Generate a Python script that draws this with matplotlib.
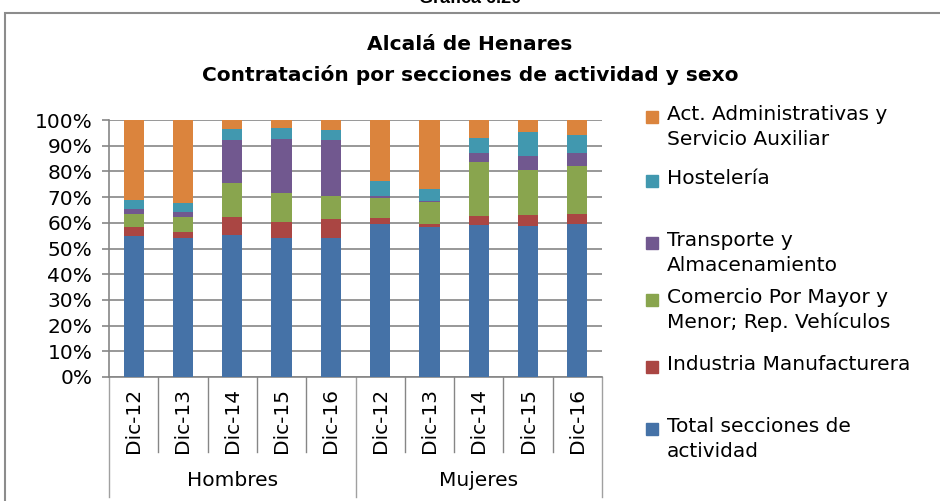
import matplotlib.pyplot as plt
from matplotlib.patches import Rectangle
import numpy as np

W, H = 940, 501

categories = ['Dic-12', 'Dic-13', 'Dic-14', 'Dic-15', 'Dic-16',
              'Dic-12', 'Dic-13', 'Dic-14', 'Dic-15', 'Dic-16']
groups = ['Hombres', 'Mujeres']

# shares (%) per section, bottom to top
total_secciones = [54.8, 53.9, 55.2, 53.9, 53.9, 59.5, 58.2, 59.0, 58.6, 59.5]
industria = [3.4, 2.6, 6.9, 6.5, 7.4, 2.2, 1.3, 3.6, 4.4, 3.9]
comercio = [5.2, 5.6, 13.4, 11.2, 9.3, 8.0, 8.7, 20.9, 17.5, 18.8]
transporte = [2.1, 2.2, 16.7, 21.0, 21.6, 0.6, 0.4, 3.5, 5.6, 4.8]
hosteleria = [3.5, 3.4, 4.3, 4.4, 3.9, 5.9, 4.5, 6.1, 9.1, 7.3]
administrativas = [31.0, 32.3, 3.5, 3.0, 3.9, 23.8, 26.9, 6.9, 4.8, 5.7]

series = [
    ('Total secciones de\nactividad', total_secciones, '#4572A7'),
    ('Industria Manufacturera', industria, '#AA4643'),
    ('Comercio Por Mayor y\nMenor; Rep. Vehículos', comercio, '#89A54E'),
    ('Transporte y\nAlmacenamiento', transporte, '#71588F'),
    ('Hostelería', hosteleria, '#4198AF'),
    ('Act. Administrativas y\nServicio Auxiliar', administrativas, '#DB843D'),
]

FONT = 'DejaVu Sans'
GRID = '#868686'
FS = 14.5


def fx(x):
    return x / W


def fy(y):
    return 1 - y / H


fig = plt.figure(figsize=(W / 100, H / 100), dpi=100)
fig.patch.set_facecolor('white')

# outer frame of the chart object
fig.add_artist(Rectangle((fx(5), fy(520)), fx(960) - fx(5), fy(13) - fy(520),
                         transform=fig.transFigure, fill=False,
                         edgecolor='#8c8c8c', linewidth=1.5))

# document caption, mostly cut off at the top (as in the source page)
fig.text(0.5, fy(7), 'Gráfica 6.20', ha='center', va='bottom',
         fontsize=13, fontweight='bold', family='Liberation Sans')

fig.text(0.5, fy(45), 'Alcalá de Henares', ha='center', va='center',
         fontsize=14.5, fontweight='bold', family=FONT)
fig.text(0.5, fy(75), 'Contratación por secciones de actividad y sexo',
         ha='center', va='center', fontsize=14.5, fontweight='bold', family=FONT)

ax = fig.add_axes([fx(109), fy(377), fx(602) - fx(109), fy(120) - fy(377)])

x = np.arange(len(categories))
totals = np.sum([s[1] for s in series], axis=0)
bottom = np.zeros(len(categories))
for name, vals, color in series:
    v = np.array(vals) / totals * 100
    ax.bar(x, v, width=0.41, bottom=bottom, color=color, zorder=3)
    bottom += v

ax.set_xlim(-0.5, len(categories) - 0.5)
ax.set_ylim(0, 100)
ax.set_yticks(np.arange(0, 101, 10))
ax.set_yticklabels([f'{t}%' for t in range(0, 101, 10)], fontsize=FS, family=FONT)
ax.yaxis.grid(True, color=GRID, linewidth=1.2, zorder=0)
ax.tick_params(axis='y', length=5, color=GRID, width=1.2, pad=7)
ax.set_xticks([])
for side in ['top', 'right']:
    ax.spines[side].set_visible(False)
ax.spines['left'].set_color(GRID)
ax.spines['left'].set_linewidth(1.2)
ax.spines['bottom'].set_color(GRID)
ax.spines['bottom'].set_linewidth(1.2)

trans = ax.get_xaxis_transform()
ax_h = 377 - 120
inner = -75 / ax_h
outer = -120 / ax_h
for b in np.arange(-0.5, len(categories), 1.0):
    lo = outer if b in (-0.5, 4.5, 9.5) else inner
    ax.plot([b, b], [0, lo], color=GRID if lo == inner else '#a0a0a0',
            linewidth=1.0, transform=trans, clip_on=False)

for i, c in enumerate(categories):
    ax.text(i, -11 / ax_h, c, rotation=90, ha='center', va='top',
            fontsize=FS, family=FONT, transform=trans)
for g, name in enumerate(groups):
    ax.text(g * 5 + 2, -104 / ax_h, name, ha='center', va='center',
            fontsize=FS, family=FONT, transform=trans)

# legend laid out like the original (entries from top to bottom)
legend_y = [117, 181, 243, 300, 367, 429]
for (name, vals, color), yy in zip(series[::-1], legend_y):
    fig.add_artist(Rectangle((fx(646), fy(yy + 6)), fx(12), fy(0) - fy(12),
                             transform=fig.transFigure, color=color))
    fig.text(fx(667), fy(yy - 12), name, ha='left', va='top',
             fontsize=FS, family=FONT, linespacing=1.38)

fig.savefig('out.png', dpi=100)
